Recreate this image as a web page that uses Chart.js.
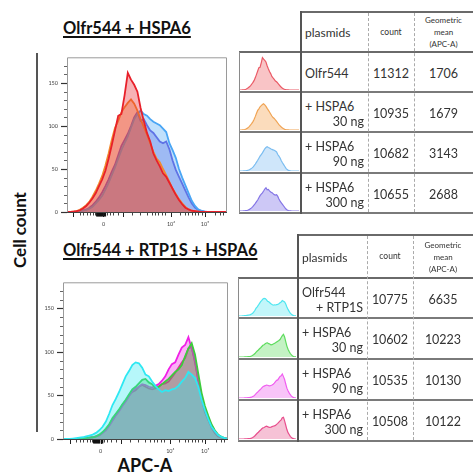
<!DOCTYPE html>
<html><head><meta charset="utf-8">
<script src="https://cdn.jsdelivr.net/npm/chart.js@4.4.1/dist/chart.umd.min.js"></script>
<style>
html,body{margin:0;padding:0;background:#fff;}
body{width:473px;height:473px;position:relative;overflow:hidden;font-family:Lato,"Open Sans",sans-serif;color:#333;}
.a{position:absolute;white-space:nowrap;}
canvas{position:absolute;}
</style></head><body>
<script>
// ---------- data ----------
const xBins = [0,2,4,6,8,10,12,14,16,18,20,22,24,26,28,30,32,34,36,38,40,42,44,46,48,50,52,54,56,58,60,62,64,66,68,70,72,74,76,78,80,82,84,86,88,90,92,94,96,98,100];

const olfr544      = [0,0,0.5,1,2,4,7,11,16,22,30,38,48,62,78,95,112,114,136,162,154,148,140,121,106,92,82,68,60,53,45,41,34,27,20,14,9,5,3,1.5,1,0.5,0,0,0,0,0,0,0,0,0];
const hspa6_30     = [0,0,0.5,1,2.5,5,8,12,18,25,33,42,54,68,84,98,106,116,122,127,131,126,118,108,99,90,80,70,62,58,50,43,35,27,21,15,10,6,3,1.5,1,0.5,0,0,0,0,0,0,0,0,0];
const hspa6_90     = [0,0,0,0.5,1,1.5,2.5,4,6,10,14,19,26,34,43,52,62,72,80,88,98,108,114,118,114,112,108,105,103,101,97,93,80,72,63,50,40,31,22,13,7,3,1.5,0.5,0,0,0,0,0,0,0];
const hspa6_300    = [0,0,0,0.5,1,2,3,5,8,12,17,23,30,38,47,55,66,77,84,91,100,110,116,106,108,101,95,92,87,82,80,82,73,60,49,41,33,25,17,10,5,2.5,1,0.5,0,0,0,0,0,0,0];

const rtp1s        = [0,0,0,0.5,1,1.5,2,3,4,5,7,10,14,20,29,39,46,54,63,72,78,85,88,87,82,74,72,66,61,57,54,56,55,57,58,61,66,70,77,74,70,60,45,33,23,14,9,4.5,2.5,1,0.5];
const rtp1s_h30    = [0,0,0,0,0,0.5,1,1,1.5,2,3,5,8,12,17,24,29,34,40,45,51,57,60,64,68,69,65,63,59,60,63,66,69,73,77,80,85,95,104,110,97,75,53,38,27,17,10,5,2.5,1,0.5];
const rtp1s_h90    = [0,0,0,0,0,0.5,1,1,1.5,2,3,4,7,10,15,21,27,32,38,43,49,55,58,60,63,62,60,59,61,63,67,72,80,86,88,97,105,108,117,104,90,68,48,35,25,16,9,4.5,2,1,0];
const rtp1s_h300   = [0,0,0,0,0,0.5,1,1,1.5,2,3,4.5,7,11,16,22,28,33,39,44,50,54,56,60,62,60,58,57,58,60,63,64,66,71,76,82,88,93,104,106,88,67,46,31,22,13,7,3,1.5,0.5,0];

// axis ticks (display units of the biexponential APC-A axis)
const xTickValues = [22.8, 65, 86.2];
const xTickLabels = ['0', '10\u2074', '10\u2075'];
const xMajorTicks = [4, 22.8, 35.2, 65, 86.2];
const xMinorTicks = [8.1,10.2,12.3,14.4,16.5,17.5,24.8,26.9,29,32,40.4,45.6,49.8,52.9,55,57.1,59.2,61.3,70.6,73.8,75.8,77.9,80,82,84.2,92.5,95.6,97.7];
const xZeroCluster = [18.6,19.2,19.8,20.4,21,21.6,22.2,23.4,24];
const yTickValues = [0, 50, 100, 150];
const yMinorTicks = [10,20,30,40,60,70,80,90,110,120,130,140,160,170];

// table contents
const topPlasmids = [['Olfr544'], ['+ HSPA6','30 ng'], ['+ HSPA6','90 ng'], ['+ HSPA6','300 ng']];
const topCounts = [11312, 10935, 10682, 10655];
const topMeans = [1706, 1679, 3143, 2688];
const botPlasmids = [['Olfr544','+ RTP1S'], ['+ HSPA6','30 ng'], ['+ HSPA6','90 ng'], ['+ HSPA6','300 ng']];
const botCounts = [10775, 10602, 10535, 10508];
const botMeans = [6635, 10223, 10130, 10122];

// ---------- helpers ----------
function el(html, css){ const d=document.createElement('div'); d.className='a'; d.innerHTML=html; Object.assign(d.style, css); document.body.appendChild(d); return d; }
function rect(x,y,w,h,bg){ return el('', {left:x+'px', top:y+'px', width:w+'px', height:h+'px', background:bg}); }
function dashV(x,y1,y2){ return el('', {left:x+'px', top:y1+'px', width:'0px', height:(y2-y1)+'px', borderLeft:'1px dashed #aaa'}); }
function txt(s, x, cy, size, align, extra){
  const css = {top:(cy-size)+'px', height:(2*size)+'px', lineHeight:(2*size)+'px', fontSize:size+'px', color:'#333'};
  if(align==='left'){ css.left=x+'px'; }
  else if(align==='right'){ css.left=(x-200)+'px'; css.width='200px'; css.textAlign='right'; }
  else { css.left=(x-100)+'px'; css.width='200px'; css.textAlign='center'; }
  return el(s, Object.assign(css, extra||{}));
}
function canvas(x,y,w,h){ const c=document.createElement('canvas'); c.width=w; c.height=h; c.style.left=x+'px'; c.style.top=y+'px'; c.style.width=w+'px'; c.style.height=h+'px'; document.body.appendChild(c); return c; }
function rgba(hex,a){ const n=parseInt(hex.slice(1),16); return `rgba(${n>>16},${(n>>8)&255},${n&255},${a})`; }

const axisDeco = {
  id:'axisDeco',
  afterDraw(chart){
    const {ctx, chartArea:a, scales:{x,y}} = chart;
    ctx.save();
    ctx.lineWidth=1;
    ctx.strokeStyle='#9a9a9a';
    ctx.beginPath();
    ctx.moveTo(a.left+0.5,a.bottom); ctx.lineTo(a.left+0.5,a.top+0.5); ctx.lineTo(a.right-0.5,a.top+0.5); ctx.lineTo(a.right-0.5,a.bottom);
    ctx.stroke();
    ctx.strokeStyle='#444';
    ctx.beginPath(); ctx.moveTo(a.left,a.bottom+0.5); ctx.lineTo(a.right,a.bottom+0.5); ctx.stroke();
    const tick=(px,py,dx,dy,w,col)=>{ctx.strokeStyle=col;ctx.lineWidth=w;ctx.beginPath();ctx.moveTo(px,py);ctx.lineTo(px+dx,py+dy);ctx.stroke();};
    xMajorTicks.forEach(v=>{const p=Math.round(x.getPixelForValue(v))+0.5; tick(p,a.bottom+1,0,4,1,'#222');});
    xMinorTicks.forEach(v=>{const p=Math.round(x.getPixelForValue(v))+0.5; tick(p,a.bottom+1,0,2.5,1,'#444');});
    xZeroCluster.forEach(v=>{const p=x.getPixelForValue(v); tick(p,a.bottom+1,0,3.5,1.4,'#111');});
    yTickValues.forEach(v=>{const p=Math.round(y.getPixelForValue(v))+0.5; tick(a.left,p,-6,0,1.2,'#333');});
    yMinorTicks.forEach(v=>{const p=Math.round(y.getPixelForValue(v))+0.5; tick(a.left,p,-3,0,1,'#666');});
    ctx.restore();
  }
};

function mainChart(pos, pad, yW, xH, series, colors){
  const c = canvas(pos[0],pos[1],pos[2],pos[3]);
  new Chart(c, {
    type:'line',
    data:{ datasets: series.map((s,i)=>({
      data: xBins.map((xv,j)=>({x:xv, y:s[j]})),
      borderColor: colors[i], backgroundColor: rgba(colors[i],0.35),
      borderWidth: 1.8, pointRadius:0, fill:'origin', tension:0
    }))},
    options:{
      responsive:false, animation:false, devicePixelRatio:1,
      layout:{padding:pad},
      plugins:{legend:{display:false}, tooltip:{enabled:false}},
      scales:{
        x:{type:'linear', min:0, max:100, grid:{display:false, drawTicks:false}, border:{display:false},
           afterBuildTicks:(s)=>{ s.ticks = xTickValues.map(v=>({value:v})); },
           afterFit:(s)=>{ s.height = xH; },
           ticks:{autoSkip:false, maxRotation:0, padding:9, color:'#444', font:{size:5.5, family:'Lato'}, callback:(v,i)=>xTickLabels[i]}},
        y:{type:'linear', min:0, max:180, grid:{display:false, drawTicks:false}, border:{display:false},
           afterBuildTicks:(s)=>{ s.ticks = yTickValues.map(v=>({value:v})); },
           afterFit:(s)=>{ s.width = yW; },
           ticks:{autoSkip:false, padding:9, color:'#444', font:{size:5.5, family:'Lato'}, callback:(v)=>String(v)}}
      }
    },
    plugins:[axisDeco]
  });
}

function thumb(x,y,w,h,s,line,fillc){
  const c = canvas(x,y,w,h);
  new Chart(c, {
    type:'line',
    data:{ datasets:[{ data: xBins.map((xv,j)=>({x:xv, y:s[j]})), borderColor:line, backgroundColor:fillc, borderWidth:1.2, pointRadius:0, fill:'origin', tension:0 }]},
    options:{ responsive:false, animation:false, devicePixelRatio:1, layout:{padding:{top:0,bottom:1,left:0,right:0}},
      plugins:{legend:{display:false}, tooltip:{enabled:false}},
      scales:{ x:{type:'linear', min:0, max:100, display:false}, y:{type:'linear', min:0, max:180, display:false} } }
  });
}

function table(g, plasmids, counts, means, thumbs){
  const R = 473;
  // borders
  rect(g.mainL, g.top-0.75, R-g.mainL, 1.5, '#6a6a6a');
  rect(g.thumbL, g.headB-0.75, R-g.thumbL, 1.5, '#6a6a6a');
  g.rows.forEach(yb=>rect(g.thumbL, yb-0.75, R-g.thumbL, 1.5, '#7a7a7a'));
  rect(g.mainL-1, g.top-0.75, 2, g.rows[3]-g.top+1.5, '#555');
  rect(g.thumbL-0.5, g.headB, 1, g.rows[3]-g.headB, '#8a8a8a');
  dashV(g.c1, g.top+1, g.rows[3]-1);
  dashV(g.c2, g.top+1, g.rows[3]-1);
  // header
  const hc = (g.top+g.headB)/2;
  txt('plasmids', g.mainL+4, hc+1, 12, 'left');
  txt('count', (g.c1+g.c2)/2, hc, 8.5, 'center');
  const mc = (g.c2+R)/2;
  txt('Geometric', mc, hc-12, 8, 'center');
  txt('mean', mc, hc, 8, 'center');
  txt('(APC-A)', mc, hc+12, 8, 'center');
  // rows
  let prev = g.headB;
  g.rows.forEach((yb,i)=>{
    const p = plasmids[i];
    if(p.length===1){ txt(p[0], g.mainL+4, prev+21, 12.5, 'left'); }
    else { txt(p[0], g.mainL+4, prev+14, 12.5, 'left'); txt(p[1], g.c1-4, prev+29, 12.5, 'right'); }
    txt(String(counts[i]), (g.c1+g.c2)/2, prev+21, 12.5, 'center');
    txt(String(means[i]), mc, prev+21, 12.5, 'center');
    const t = thumbs[i];
    thumb(g.thumbL+1, prev+2, g.mainL-g.thumbL-3, yb-prev-3, t[0], t[1], t[2]);
    prev = yb;
  });
}

// ---------- figure ----------
const titleCss = {fontWeight:'700', color:'#111', textDecoration:'underline', textDecorationThickness:'1.5px', textUnderlineOffset:'2px'};
txt('Olfr544 + HSPA6', 63, 28, 16.5, 'left', titleCss);
txt('Olfr544 + RTP1S + HSPA6', 63, 250, 16.5, 'left', titleCss);
el('Cell count', {left:'-30px', top:'219px', width:'100px', height:'22px', lineHeight:'22px', textAlign:'center', fontSize:'17px', fontWeight:'700', color:'#111', transform:'rotate(-90deg)'});
rect(36, 53, 2, 379, '#555');
txt('APC-A', 145, 465, 18, 'center', {fontWeight:'700', color:'#111'});

mainChart([20,45,215,190], {top:8,right:8,left:0,bottom:0}, 47, 23,
  [olfr544, hspa6_30, hspa6_90, hspa6_300], ['#e8202a','#f28a2e','#4aa6f5','#6a58dc']);
mainChart([20,270,215,190], {top:7,right:7,left:0,bottom:0}, 43, 21,
  [rtp1s, rtp1s_h30, rtp1s_h90, rtp1s_h300], ['#2ee8f2','#3ccc3c','#f020e6','#d8307a']);

table({thumbL:239, mainL:301, c1:368, c2:414, top:12, headB:52, rows:[92,132,173,213]},
  topPlasmids, topCounts, topMeans,
  [[olfr544,'#ea5a66','#f9c4c6'],[hspa6_30,'#f0a455','#fbdcbc'],[hspa6_90,'#7bbdf0','#cfe6fa'],[hspa6_300,'#8576e6','#cdc8f6']]);
table({thumbL:238, mainL:298, c1:367, c2:413, top:235, headB:278, rows:[318,359,400,441]},
  botPlasmids, botCounts, botMeans,
  [[rtp1s,'#4fe6f0','#c2f6fa'],[rtp1s_h30,'#5edc5e','#c4f2c4'],[rtp1s_h90,'#f05ef0','#f8c4f8'],[rtp1s_h300,'#e8508e','#f6c2d6']]);
</script>
</body></html>
